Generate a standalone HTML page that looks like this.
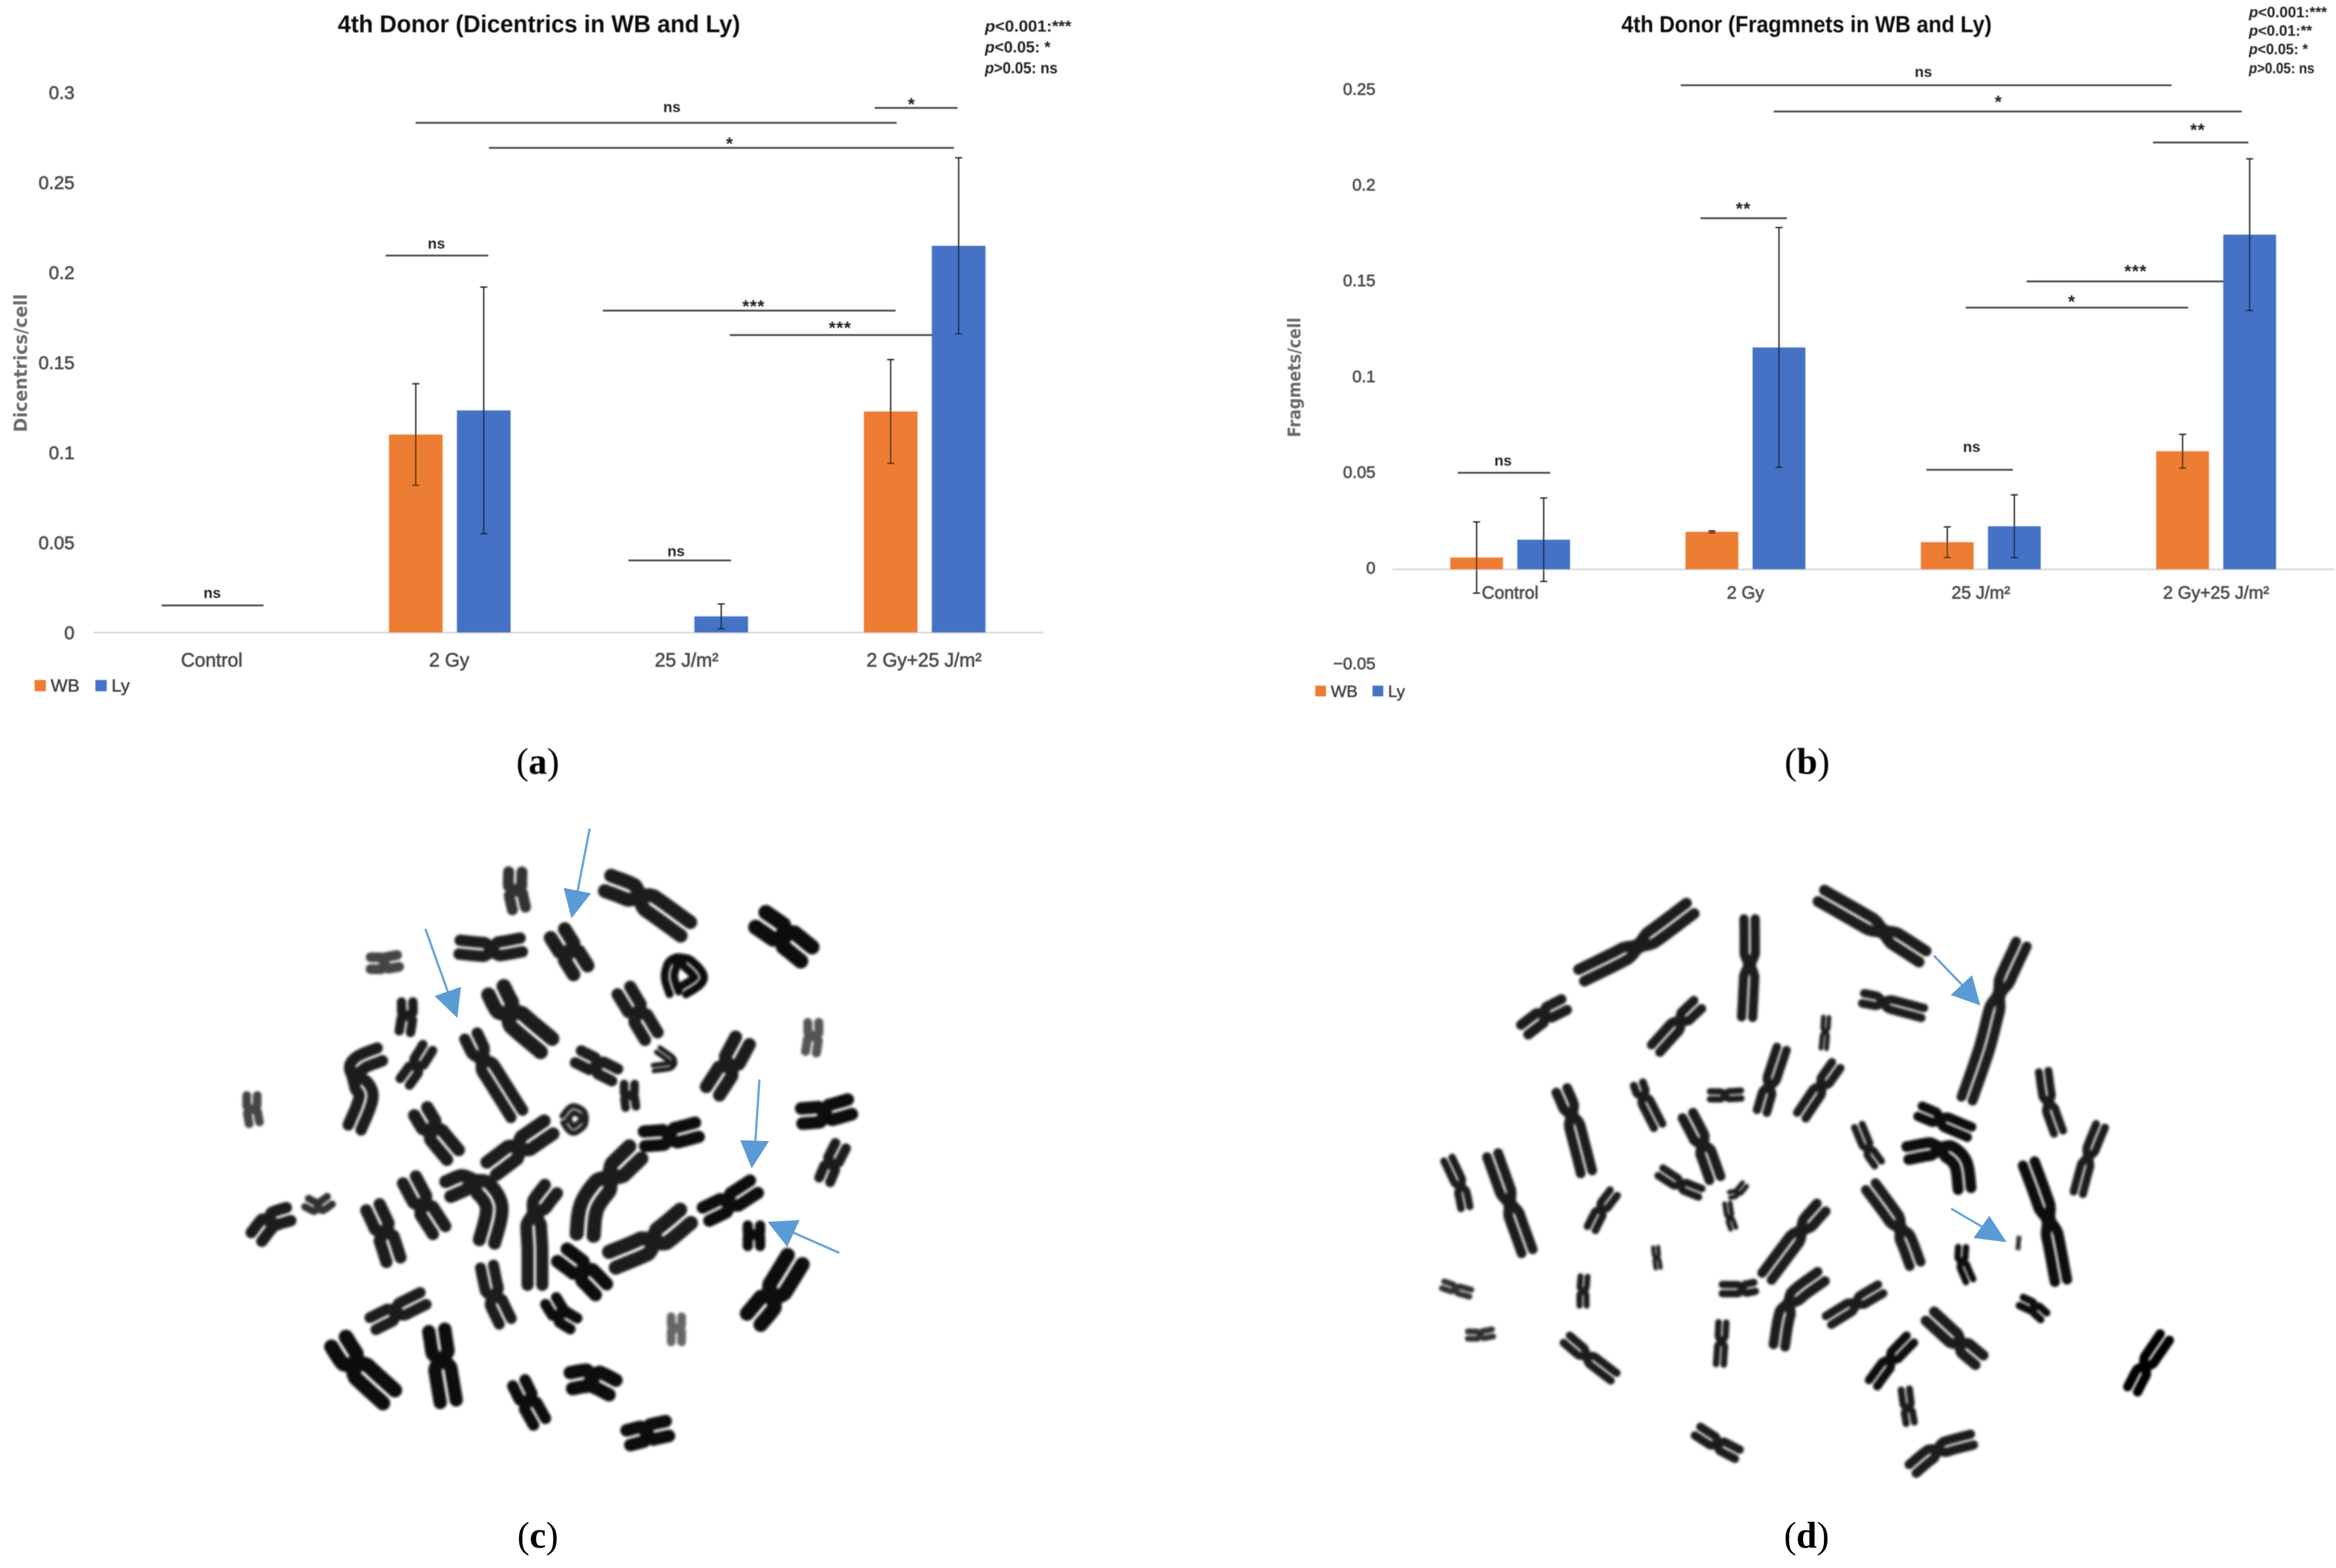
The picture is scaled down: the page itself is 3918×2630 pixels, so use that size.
<!DOCTYPE html>
<html lang="en">
<head>
<meta charset="utf-8">
<title>4th Donor charts and metaphase spreads</title>
<style>
html,body{margin:0;padding:0;background:#fff;width:3918px;height:2630px;overflow:hidden}
svg{display:block}
text{font-family:"Liberation Sans",sans-serif}
.sig{font-weight:700;font-size:25px;fill:#222;text-anchor:middle}
.star{font-weight:700;font-size:30px;fill:#222;text-anchor:middle;letter-spacing:1px}
.br{stroke:#444;stroke-width:3}
.title{font-weight:700;fill:#111;text-anchor:middle}
.plab{font-family:"Liberation Serif",serif;font-size:62px;fill:#000;text-anchor:middle}
.ptxt{font-weight:700;fill:#222}
.ytitle{font-family:"DejaVu Sans",sans-serif;font-weight:700;fill:#6a6a6a;text-anchor:middle}
</style>
</head>
<body>
<svg id="figure" xmlns="http://www.w3.org/2000/svg" width="3918" height="2630" viewBox="0 0 3918 2630">
<defs>
<filter id="soft" x="-2%" y="-2%" width="104%" height="104%"><feGaussianBlur stdDeviation="0.9"/></filter>
<filter id="chromBlur" x="-5%" y="-5%" width="110%" height="110%"><feGaussianBlur stdDeviation="2.2"/></filter>
</defs>
<rect width="3918" height="2630" fill="#fff"/>

<g id="chartA" filter="url(#soft)">
<text class="title" x="904" y="54" font-size="41" textLength="675" lengthAdjust="spacingAndGlyphs">4th Donor (Dicentrics in WB and Ly)</text>
<text class="ytitle" transform="translate(45,609) rotate(-90)" font-size="30" textLength="232" lengthAdjust="spacingAndGlyphs">Dicentrics/cell</text>
<g>
<text class="ptxt" x="1652" y="53" font-size="27" textLength="145" lengthAdjust="spacingAndGlyphs"><tspan font-style="italic">p</tspan>&lt;0.001:***</text>
<text class="ptxt" x="1652" y="88" font-size="27" textLength="110" lengthAdjust="spacingAndGlyphs"><tspan font-style="italic">p</tspan>&lt;0.05: *</text>
<text class="ptxt" x="1652" y="123" font-size="27" textLength="122" lengthAdjust="spacingAndGlyphs"><tspan font-style="italic">p</tspan>&gt;0.05: ns</text>
</g>
<g>
<line class="br" x1="271" x2="442" y1="1015.5" y2="1015.5"/><text class="sig" x="356" y="1003">ns</text>
<line class="br" x1="647" x2="819" y1="428.6" y2="428.6"/><text class="sig" x="732" y="417">ns</text>
<line class="br" x1="1054" x2="1226" y1="940" y2="940"/><text class="sig" x="1134" y="933">ns</text>
<line class="br" x1="1011" x2="1502" y1="521" y2="521"/><text class="star" x="1264" y="524">***</text>
<line class="br" x1="1224" x2="1609" y1="562" y2="562"/><text class="star" x="1409" y="560">***</text>
<line class="br" x1="697" x2="1504" y1="206" y2="206"/><text class="sig" x="1127" y="188">ns</text>
<line class="br" x1="820" x2="1600" y1="248" y2="248"/><text class="star" x="1224" y="251">*</text>
<line class="br" x1="1467" x2="1606" y1="181" y2="181"/><text class="star" x="1529" y="185">*</text>
</g>
<text class="plab" x="902" y="1298">(<tspan font-weight="700">a</tspan>)</text>
</g>

<g id="chartB" filter="url(#soft)">
<text class="title" x="3030" y="54" font-size="39" textLength="621" lengthAdjust="spacingAndGlyphs">4th Donor (Fragmnets in WB and Ly)</text>
<text class="ytitle" transform="translate(2181,633) rotate(-90)" font-size="29" textLength="201" lengthAdjust="spacingAndGlyphs">Fragmets/cell</text>
<g>
<text class="ptxt" x="3772" y="29" font-size="25" textLength="131" lengthAdjust="spacingAndGlyphs"><tspan font-style="italic">p</tspan>&lt;0.001:***</text>
<text class="ptxt" x="3772" y="60" font-size="25" textLength="106" lengthAdjust="spacingAndGlyphs"><tspan font-style="italic">p</tspan>&lt;0.01:**</text>
<text class="ptxt" x="3772" y="91" font-size="25" textLength="99" lengthAdjust="spacingAndGlyphs"><tspan font-style="italic">p</tspan>&lt;0.05: *</text>
<text class="ptxt" x="3772" y="123" font-size="25" textLength="110" lengthAdjust="spacingAndGlyphs"><tspan font-style="italic">p</tspan>&gt;0.05: ns</text>
</g>
<g>
<line class="br" x1="2445" x2="2600" y1="793" y2="793"/><text class="sig" x="2521" y="781">ns</text>
<line class="br" x1="2852" x2="2997" y1="366" y2="366"/><text class="star" x="2924" y="360">**</text>
<line class="br" x1="3231" x2="3376" y1="788" y2="788"/><text class="sig" x="3307" y="758">ns</text>
<line class="br" x1="2819" x2="3642" y1="143" y2="143"/><text class="sig" x="3226" y="129">ns</text>
<line class="br" x1="2975" x2="3760" y1="187" y2="187"/><text class="star" x="3352" y="181">*</text>
<line class="br" x1="3611" x2="3771" y1="239" y2="239"/><text class="star" x="3686" y="228">**</text>
<line class="br" x1="3399" x2="3771" y1="472" y2="472"/><text class="star" x="3582" y="465">***</text>
<line class="br" x1="3297" x2="3670" y1="516" y2="516"/><text class="star" x="3475" y="516">*</text>
</g>
<text class="plab" x="3031" y="1298">(<tspan font-weight="700">b</tspan>)</text>
</g>

<g id="spreadC"></g>
<g id="spreadD"></g>

<g fill="#5b9bd5" stroke="none" transform="translate(350,1340) scale(0.7653)">
<line x1="835" y1="65" x2="808" y2="205" stroke="#69a5dc" stroke-width="5"/><polygon points="795,262 778,195 838,207"/>
<line x1="475" y1="285" x2="525" y2="425" stroke="#69a5dc" stroke-width="5"/><polygon points="545,480 495,432 553,412"/>
<line x1="1207" y1="615" x2="1198" y2="752" stroke="#69a5dc" stroke-width="5"/><polygon points="1190,810 1165,748 1228,750"/>
<line x1="1382" y1="995" x2="1280" y2="950" stroke="#69a5dc" stroke-width="5"/><polygon points="1225,927 1295,923 1268,982"/>
</g>
<g fill="#5b9bd5" stroke="none" transform="translate(2350,1450) scale(0.829,0.7015)">
<line x1="1078" y1="218" x2="1135" y2="288" stroke="#69a5dc" stroke-width="5"/><polygon points="1172,337 1155,265 1112,312"/>
<line x1="1113" y1="823" x2="1175" y2="866" stroke="#69a5dc" stroke-width="5"/><polygon points="1225,903 1190,840 1158,893"/>
</g>

<text class="plab" x="902" y="2596">(<tspan font-weight="700">c</tspan>)</text>
<text class="plab" x="3030" y="2596">(<tspan font-weight="700">d</tspan>)</text>
</svg>

<script>
// ---- chart data ----
const categories = ['Control', '2 Gy', '25 J/m²', '2 Gy+25 J/m²'];
const seriesNames = ['WB', 'Ly'];
const seriesColors = ['#ed7d31', '#4472c4'];

const dicentricsWB = [0, 0.110, 0, 0.1228];
const dicentricsLy = [0, 0.1234, 0.009, 0.2148];
const dicentricsWBErr = [0, 0.0282, 0, 0.0288];
const dicentricsLyErr = [0, 0.0685, 0.0069, 0.0489];
const dicentricsTicks = [0, 0.05, 0.1, 0.15, 0.2, 0.25, 0.3];

const fragmentsWB = [0.0062, 0.0196, 0.0142, 0.0617];
const fragmentsLy = [0.0155, 0.1159, 0.0225, 0.1748];
const fragmentsWBErr = [0.0186, 0.0005, 0.008, 0.0088];
const fragmentsLyErr = [0.0218, 0.0626, 0.0164, 0.0396];
const fragmentsTicks = [-0.05, 0, 0.05, 0.1, 0.15, 0.2, 0.25];

const NS = 'http://www.w3.org/2000/svg';
function make(tag, parent, attrs) {
  const e = document.createElementNS(NS, tag);
  for (const k in attrs) e.setAttribute(k, attrs[k]);
  parent.appendChild(e);
  return e;
}

function drawChart(root, cfg) {
  const yScale = v => cfg.zeroY - v * cfg.pxPerUnit;
  const xBand = i => cfg.x0 + cfg.band * (i + 0.5);
  const xBar = (i, s) => s === 0 ? xBand(i) - cfg.gap / 2 - cfg.barW : xBand(i) + cfg.gap / 2;

  const axis = make('line', root, {x1: cfg.x0, x2: cfg.x1, y1: cfg.zeroY, y2: cfg.zeroY, stroke: '#d9d9d9', 'stroke-width': 3});
  
  

  cfg.ticks.forEach(t => {
    const lab = make('text', root, {x: cfg.tickX, y: yScale(t) + cfg.tickDy, 'text-anchor': 'end', 'font-size': cfg.tickSize, fill: '#4d4d4d', stroke: '#4d4d4d', 'stroke-width': 0.9});
    lab.textContent = String(t).replace('-', '−');
    
    
  });

  categories.forEach((c, i) => {
    const lab = make('text', root, {x: xBand(i) + cfg.catDx, y: cfg.catY, 'text-anchor': 'middle', 'font-size': cfg.catSize, fill: '#4d4d4d', stroke: '#4d4d4d', 'stroke-width': 0.9});
    lab.textContent = c;
    
    
  });

  cfg.series.forEach((vals, s) => {
    vals.forEach((v, i) => {
      const top = yScale(Math.max(v, 0));
      const bar = make('rect', root, {x: xBar(i, s), y: top, width: cfg.barW, height: Math.abs(yScale(v) - cfg.zeroY), fill: seriesColors[s]});
      
      
    });
  });

  cfg.series.forEach((vals, s) => {
    vals.forEach((v, i) => {
      const err = cfg.errors[s][i];
      if (!err) return;
      const cx = xBar(i, s) + cfg.barW / 2;
      const eb = make('path', root, {
        d: 'M' + cx + ' ' + yScale(v + err) + 'V' + yScale(v - err) +
           'M' + (cx - 6) + ' ' + yScale(v + err) + 'H' + (cx + 6) +
           'M' + (cx - 6) + ' ' + yScale(v - err) + 'H' + (cx + 6),
        stroke: '#111', 'stroke-width': 2, fill: 'none'
      });
      
      
    });
  });

  seriesNames.forEach((n, s) => {
    const sw = make('rect', root, {x: cfg.legendX[s], y: cfg.legendY - cfg.legendBox / 2, width: cfg.legendBox, height: cfg.legendBox, fill: seriesColors[s]});
    
    
    const t = make('text', root, {x: cfg.legendX[s] + cfg.legendBox + 8, y: cfg.legendY + 10, 'font-size': cfg.legendSize, fill: '#3d3d3d', stroke: '#3d3d3d', 'stroke-width': 0.6});
    t.textContent = n;
    
    
  });
}

drawChart(document.getElementById('chartA'), {
  zeroY: 1061, pxPerUnit: 3020, x0: 157, x1: 1750, band: 398.25, barW: 90, gap: 24,
  series: [dicentricsWB, dicentricsLy], errors: [dicentricsWBErr, dicentricsLyErr], ticks: dicentricsTicks,
  tickX: 125, tickDy: 11, tickSize: 31, catDx: -1, catY: 1118, catSize: 32,
  legendX: [58, 160], legendY: 1150, legendBox: 19, legendSize: 30
});
drawChart(document.getElementById('chartB'), {
  zeroY: 955, pxPerUnit: 3212, x0: 2335.5, x1: 3916, band: 394.7, barW: 88.5, gap: 24,
  series: [fragmentsWB, fragmentsLy], errors: [fragmentsWBErr, fragmentsLyErr], ticks: fragmentsTicks,
  tickX: 2307, tickDy: 7, tickSize: 28, catDx: 0, catY: 1004, catSize: 29.5,
  legendX: [2206, 2302], legendY: 1159, legendBox: 18, legendSize: 28
});

// ---- chromosome micrographs (drawn shapes, not chart data) ----
const spreadCShapes = [
[[672,160,672,200,680,240],56,'#333'],[[875,185,945,215,1045,285],70],[[1210,265,1260,300,1310,340],76,'#0c0c0c'],
[[765,295,790,335,815,375],70],[[550,325,620,330,685,320],58],[[355,360,385,360,415,355],50,'#444'],
[[435,445,435,475,430,510],48],[[630,420,660,470,740,540],74],[[910,420,940,470,970,520],62],
[[1020,425,1010,385,1030,350,1075,390,1040,420],40,'#111'],[[810,565,850,585,890,605],56],[[985,550,1020,580,975,590],24],
[[922,625,922,650,925,675],44],[[1170,530,1140,585,1105,640],66],[[1325,490,1325,520,1320,555],46,'#555'],
[[1300,695,1350,690,1405,675],64,'#0c0c0c'],[[1385,760,1365,800,1350,835],50],[[375,560,330,580,320,610,345,650,320,720],58,'#1a1a1a'],
[[480,545,455,585,430,620],48],[[575,520,600,570,625,610,675,690],58],[[95,650,95,680,100,710],44,'#444'],
[[465,685,490,725,535,780],64],[[620,810,680,765,745,720],66],[[780,700,800,680,825,700,800,725,782,705],28,'#222'],
[[955,745,1010,740,1070,725],62,'#0a0a0a'],[[935,775,880,830,835,890,825,955],72],[[1195,850,1140,885,1090,910],62,'#0a0a0a'],
[[1195,935,1195,955,1195,980],52,'#0a0a0a'],[[1045,915,975,970,885,1010],72],[[1285,1010,1235,1090,1195,1140],74,'#111'],
[[105,960,135,925,175,910],58],[[215,885,240,895,265,880],38,'#333'],[[360,895,385,950,405,1010],62],
[[440,835,470,890,505,945],62],[[525,855,580,840,625,890,610,970],66],[[750,855,715,910,715,990,715,1065],62],
[[775,1000,820,1035,860,1075],66,'#111'],[[610,1025,625,1090,650,1145],56],[[750,1100,770,1130,800,1150],54,'#0a0a0a'],
[[1025,1135,1025,1160,1025,1190],44,'#666'],[[360,1150,410,1125,470,1095],56],[[285,1190,320,1240,395,1310],74,'#111'],
[[500,1165,510,1230,525,1320],68,'#111'],[[680,1280,700,1320,725,1365],58,'#111'],[[795,1275,840,1270,885,1290],68,'#111'],
[[920,1400,960,1390,1005,1380],64,'#0a0a0a']
];
const spreadDShapes = [
[[365,265,480,195,585,105],42],[[250,395,290,360,330,335],39],[[705,130,705,240,700,365],36],[[850,75,975,160,1055,220],42],
[[1255,190,1210,310,1180,440,1145,560],38],[[935,320,975,330,1055,355],33],[[515,440,565,375,600,335],36],[[860,365,858,400,855,440],18],
[[770,440,745,530,730,590],33],[[880,480,850,530,810,600],33],[[625,552,655,552,688,550],25],[[325,540,345,600,375,735],38],
[[480,525,490,555,520,625],31],[[580,600,610,670,635,750],38],[[1300,495,1310,570,1330,640],31],[[1415,625,1390,700,1370,785],31],
[[1050,590,1090,610,1150,640],36,'#0c0c0c'],[[1025,690,1090,680,1130,710,1140,775],42,'#0c0c0c'],[[925,625,945,680,965,715],27],
[[95,705,120,770,130,820],29],[[185,695,220,810,255,925],38],[[430,785,405,825,385,870],29],[[525,735,565,765,605,785],29],
[[695,765,680,785,665,790],18],[[660,810,665,845,672,870],18],[[515,915,517,940,520,965],16],[[850,820,810,875,740,985],38],
[[950,770,1010,870,1040,955],38],[[1135,915,1135,950,1150,995],25,'#0a0a0a'],[[1250,890,1249,905,1248,920],8,'#0a0a0a'],[[1270,715,1310,850,1335,995],40,'#111'],
[[1255,1045,1280,1060,1300,1080],29,'#0a0a0a'],[[85,1005,110,1015,140,1025],23,'#333'],[[135,1125,160,1125,185,1120],23,'#333'],[[370,985,368,1020,368,1055],23],
[[335,1135,375,1175,430,1225],31],[[650,1095,648,1140,645,1195],25],[[650,1015,690,1015,715,1010],29],[[850,985,785,1050,765,1150],38],
[[970,1015,920,1050,865,1090],33],[[1070,1080,1130,1145,1170,1185],40],[[1030,1135,990,1185,955,1240],33,'#0c0c0c'],[[1545,1130,1505,1200,1480,1255],36,'#050505'],
[[1020,1255,1025,1300,1030,1335],27],[[600,1355,640,1385,680,1410],33],[[1155,1375,1085,1400,1035,1445],36]
];

function samplePath(P) {
  const out = [];
  const n = P.length;
  for (let i = 0; i < n - 1; i++) {
    const p0 = P[Math.max(i - 1, 0)], p1 = P[i], p2 = P[i + 1], p3 = P[Math.min(i + 2, n - 1)];
    for (let k = 0; k < 14; k++) {
      const t = k / 14, t2 = t * t, t3 = t2 * t;
      out.push([
        0.5 * (2 * p1[0] + (p2[0] - p0[0]) * t + (2 * p0[0] - 5 * p1[0] + 4 * p2[0] - p3[0]) * t2 + (3 * p1[0] - p0[0] - 3 * p2[0] + p3[0]) * t3),
        0.5 * (2 * p1[1] + (p2[1] - p0[1]) * t + (2 * p0[1] - 5 * p1[1] + 4 * p2[1] - p3[1]) * t2 + (3 * p1[1] - p0[1] - 3 * p2[1] + p3[1]) * t3)
      ]);
    }
  }
  out.push(P[n - 1]);
  return out;
}

function drawChromosome(root, pts, width, color) {
  const P = pts.map(p => p.slice());
  const cIdx = Math.floor((P.length - 1) / 2) * 14;
  const S = samplePath(P);
  const lens = [0];
  for (let i = 1; i < S.length; i++) lens.push(lens[i - 1] + Math.hypot(S[i][0] - S[i - 1][0], S[i][1] - S[i - 1][1]));
  const total = lens[lens.length - 1] || 1;
  const cs = lens[Math.min(cIdx, S.length - 1)];
  const reach = Math.max(Math.min(total * 0.12, width * 0.7), 2);
  let a = '', b = '';
  S.forEach((p, i) => {
    const q0 = S[Math.max(i - 1, 0)], q1 = S[Math.min(i + 1, S.length - 1)];
    const dx = q1[0] - q0[0], dy = q1[1] - q0[1], L = Math.hypot(dx, dy) || 1;
    const nx = -dy / L, ny = dx / L;
    const u = Math.min(1, Math.abs(lens[i] - cs) / reach);
    const off = width * 0.26 * (0.3 + 0.7 * u * u * (3 - 2 * u));
    a += (i ? 'L' : 'M') + (p[0] + nx * off).toFixed(1) + ' ' + (p[1] + ny * off).toFixed(1);
    b += (i ? 'L' : 'M') + (p[0] - nx * off).toFixed(1) + ' ' + (p[1] - ny * off).toFixed(1);
  });
  const path = make('path', root, {
    d: a + b, fill: 'none', stroke: color || '#1c1c1c', 'stroke-width': (width * 0.43).toFixed(1),
    'stroke-linecap': 'round', 'stroke-linejoin': 'round'
  });
  
  
}

function drawSpread(root, shapes, ox, oy, sx, sy, wScale) {
  root.setAttribute('filter', 'url(#chromBlur)');
  shapes.forEach(s => {
    const flat = s[0], pts = [];
    for (let i = 0; i < flat.length; i += 2) pts.push([ox + flat[i] * sx, oy + flat[i + 1] * sy]);
    drawChromosome(root, pts, s[1] * wScale, s[2]);
  });
}
drawSpread(document.getElementById('spreadC'), spreadCShapes, 350, 1340, 0.7653, 0.7653, 0.7653);
drawSpread(document.getElementById('spreadD'), spreadDShapes, 2350, 1450, 0.829, 0.7015, 1);
</script>
</body>
</html>
